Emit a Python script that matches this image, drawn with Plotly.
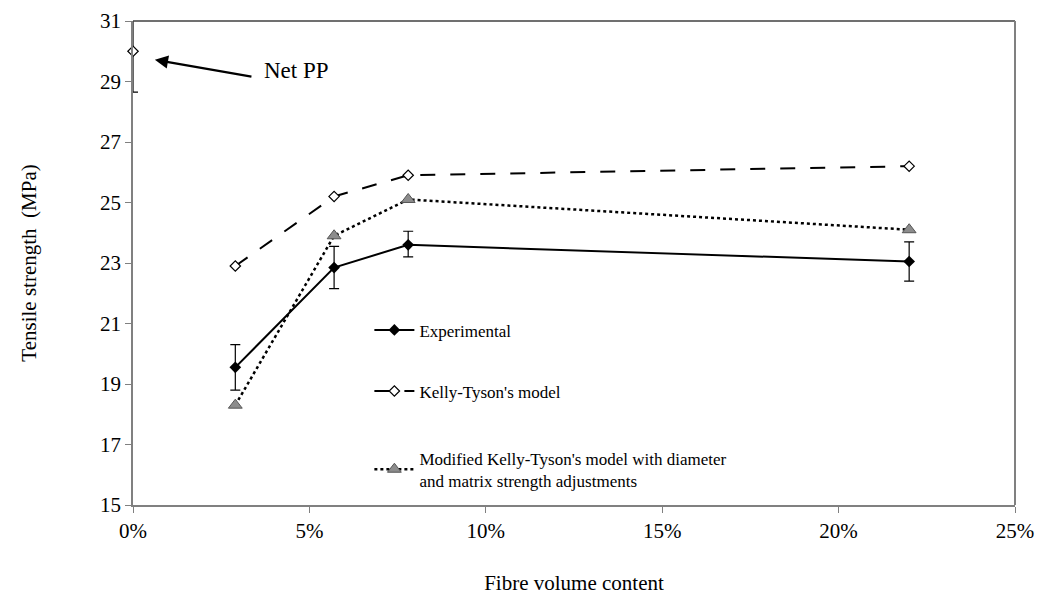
import plotly.graph_objects as go

fibre = [0.029, 0.057, 0.078, 0.22]
exp_vals = [19.55, 22.85, 23.6, 23.05]
exp_err_plus = [0.75, 0.7, 0.45, 0.65]
exp_err_minus = [0.75, 0.7, 0.4, 0.65]
kt_vals = [22.9, 25.2, 25.9, 26.2]
mod_vals = [18.3, 23.9, 25.1, 24.1]
netpp_x = [0.0]
netpp_y = [30.0]
netpp_err_plus = [1.2]
netpp_err_minus = [1.35]

FONT = "Liberation Serif, Times New Roman, serif"

fig = go.Figure()
fig.add_trace(go.Scatter(
    x=fibre, y=exp_vals, mode="lines+markers", name="Experimental",
    line=dict(color="black", width=2),
    marker=dict(symbol="diamond", size=9, color="black"),
    error_y=dict(type="data", array=exp_err_plus, arrayminus=exp_err_minus,
                 color="black", thickness=1.2, width=5),
    legendgroup="a",
))
fig.add_trace(go.Scatter(
    x=fibre, y=kt_vals, mode="lines+markers", name="Kelly-Tyson's model",
    line=dict(color="black", width=2, dash="longdash"),
    marker=dict(symbol="diamond", size=8, color="white",
                line=dict(color="black", width=1.2)),
    legendgroup="b",
))
fig.add_trace(go.Scatter(
    x=fibre, y=mod_vals, mode="lines+markers",
    name="Modified Kelly-Tyson's model with diameter<br>and matrix strength adjustments",
    line=dict(color="black", width=2.5, dash="dot"),
    marker=dict(symbol="triangle-up", size=12, color="#8c8c8c",
                line=dict(color="#555555", width=1)),
    legend="legend2",
))
fig.add_trace(go.Scatter(
    x=netpp_x, y=netpp_y, mode="markers", showlegend=False,
    marker=dict(symbol="diamond", size=8, color="white",
                line=dict(color="black", width=1.2)),
    error_y=dict(type="data", array=netpp_err_plus, arrayminus=netpp_err_minus,
                 color="black", thickness=1.2, width=5),
    cliponaxis=False,
))

fig.add_annotation(x=0.0062, y=29.72, ax=0.034, ay=29.15, xref="x", yref="y",
                   axref="x", ayref="y", text="", showarrow=True,
                   arrowhead=2, arrowsize=1.2, arrowwidth=2.2, arrowcolor="black")
fig.add_annotation(x=0.0365, y=29.38, text="Net PP", showarrow=False,
                   xanchor="left", yanchor="middle",
                   font=dict(family=FONT, size=23, color="black"))

fig.update_layout(
    width=1044, height=610,
    margin=dict(l=125, r=37, t=13, b=113, autoexpand=False),
    paper_bgcolor="white", plot_bgcolor="white",
    font=dict(family=FONT, color="black", size=21),
    legend=dict(x=0.268, y=0.398, xanchor="left", yanchor="top",
                bgcolor="rgba(0,0,0,0)", font=dict(family=FONT, size=17),
                tracegroupgap=36, itemwidth=40),
    legend2=dict(x=0.268, y=0.133, xanchor="left", yanchor="top",
                 bgcolor="rgba(0,0,0,0)", font=dict(family=FONT, size=17),
                 itemwidth=40),
    xaxis=dict(range=[0, 0.25], dtick=0.05, tick0=0, tickformat=".0%",
               showgrid=False, zeroline=False, showline=True, linecolor="#808080",
               linewidth=1.5, ticks="outside", ticklen=6, tickcolor="#808080",
               automargin=False,
               title=dict(text="Fibre volume content", standoff=33,
                          font=dict(family=FONT, size=21)),
               tickfont=dict(family=FONT, size=21)),
    yaxis=dict(range=[15, 31], dtick=2, tick0=15, showgrid=False, zeroline=False,
               showline=True, linecolor="#808080", linewidth=1.5,
               ticks="outside", ticklen=6, tickcolor="#808080",
               automargin=False,
               title=dict(text="Tensile strength  (MPa)", standoff=58,
                          font=dict(family=FONT, size=21)),
               tickfont=dict(family=FONT, size=21)),
)
# top and right borders
fig.add_shape(type="line", xref="paper", yref="paper", x0=0, x1=1, y0=1, y1=1,
              line=dict(color="#404040", width=1.5))
fig.add_shape(type="line", xref="paper", yref="paper", x0=1, x1=1, y0=0, y1=1,
              line=dict(color="#808080", width=2))

fig.write_html("out.html")
